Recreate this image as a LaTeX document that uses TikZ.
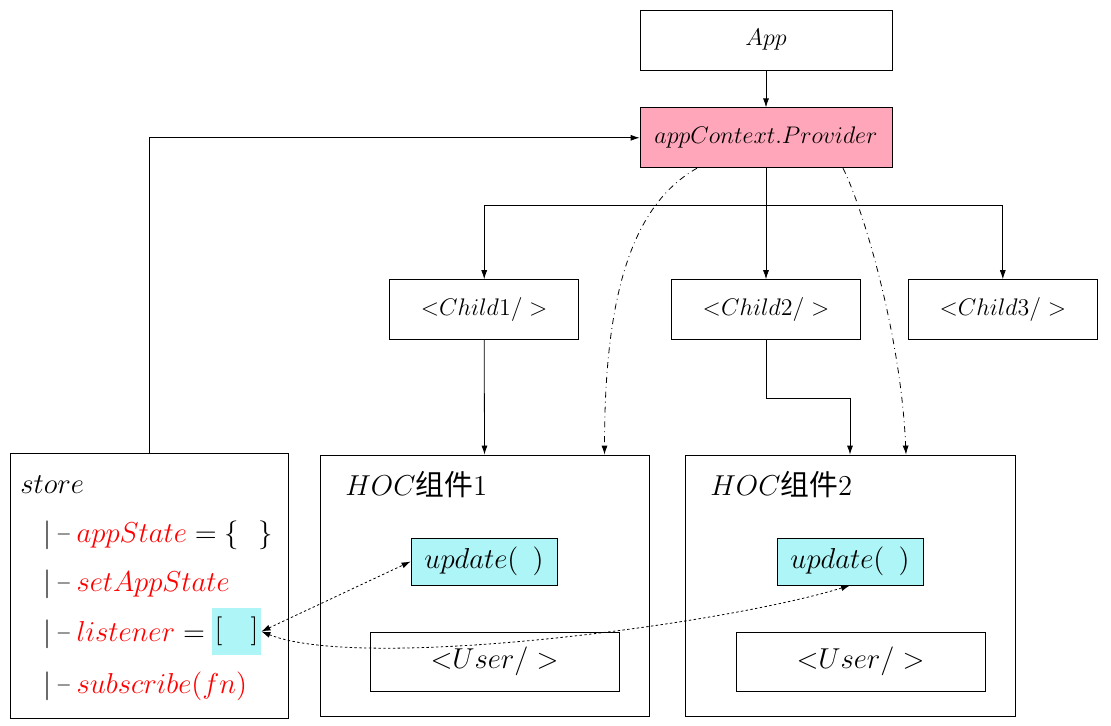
\documentclass[tikz,border=0pt]{standalone}
\usepackage{amsmath,amssymb}
\usepackage{xcolor}
\usepackage{fontspec}
\newfontfamily\cjk{Noto Sans CJK SC}
\usetikzlibrary{positioning,arrows.meta}
\definecolor{provpink}{RGB}{255,166,186}
\definecolor{fncyan}{RGB}{174,245,247}
\newcommand{\treedash}{$|$\,\raisebox{1.2pt}{\normalsize$-$}\,}

\begin{document}
\begin{tikzpicture}[>={Latex[length=4.5pt,width=3pt]}, x=0.5pt, y=-0.5pt, node distance=0.7cm]
\useasboundingbox (0,0) rectangle (1111,726);
% top row
\node[draw, minimum width=126pt, minimum height=30pt, font=\large]
  (app) at (766,40) {$App$};
\node[draw, fill=provpink, below=18.5pt of app, minimum width=126pt, minimum height=30pt, font=\large]
  (prov) {$appContext.Provider$};
\node[draw, below=55.5pt of prov, minimum width=94.5pt, minimum height=30pt, font=\large]
  (childb) {$\mathord{<}Child2/>$};
\node[draw, left=46pt of childb, minimum width=94.5pt, minimum height=30pt, font=\large]
  (childa) {$\mathord{<}Child1/>$};
\node[draw, right=23.5pt of childb, minimum width=94.5pt, minimum height=30pt, font=\large]
  (childc) {$\mathord{<}Child3/>$};
% bottom row
\node[draw, minimum width=139pt, minimum height=132.5pt] (store) at (149,585.5) {};
\node[draw, minimum width=164.5pt, minimum height=130.5pt] (hoca) at (484.5,585.5) {};
\node[draw, minimum width=165pt, minimum height=130.5pt] (hocb) at (850,585.5) {};
\node[anchor=west, inner sep=0pt, font=\Large] (hocalbl) at (345,485) {$HOC${\cjk 组件}$1$};
\node[anchor=west, inner sep=0pt, font=\Large] (hocblbl) at (710,485) {$HOC${\cjk 组件}$2$};
\node[draw, fill=fncyan, minimum width=73pt, minimum height=23.5pt, font=\Large]
  (upda) at (484,561.5) {$update(\,\ )$};
\node[draw, fill=fncyan, minimum width=73pt, minimum height=23.5pt, font=\Large]
  (updb) at (850,561.5) {$update(\,\ )$};
\node[draw, minimum width=124.5pt, minimum height=29.5pt, font=\Large]
  (usera) at (494.5,661.5) {$\mathord{<}User/>$};
\node[draw, minimum width=124.5pt, minimum height=29.5pt, font=\Large]
  (userb) at (860.5,661.5) {$\mathord{<}User/>$};
% store content
\node[anchor=west, inner sep=0pt, font=\Large] (stname) at (20,485) {$store$};
\node[anchor=west, inner sep=0pt, font=\Large] (ststate) at (43,535)
  {\treedash$\textcolor{red}{appState}=\{\ \ \}$};
\node[anchor=west, inner sep=0pt, font=\Large] (stset) at (43,584)
  {\treedash$\textcolor{red}{setAppState}$};
\node[anchor=west, inner sep=0pt, font=\Large] (stlist) at (43,634)
  {\treedash$\textcolor{red}{listener}=$};
\node[fill=fncyan, minimum width=24.5pt, minimum height=23.5pt, inner sep=0pt, font=\Large]
  (lstbox) at (236.5,631.5) {$[\ \ \ ]$};
\node[anchor=west, inner sep=0pt, font=\Large] (stsub) at (43,686)
  {\treedash$\textcolor{red}{subscribe(fn)}$};
% connectors
\draw[->] (app) -- (prov);
\draw[->] (prov.south) -- ++(0,37) -| (childa.north);
\draw[->] (prov.south) -- ++(0,37) -| (childc.north);
\draw[->] (prov.south) -- (childb.north);
\draw[->] (childa.south) -- (hoca.north);
\draw[->] (childb.south) -- ++(0,58) -| (hocb.north);
\draw[->] (store.north) |- (prov.west);
\draw[->, dash dot] ([xshift=-34.5pt]prov.south) .. controls +(-67,38) and +(0,-155) .. ([xshift=60pt]hoca.north);
\draw[->, dash dot] ([xshift=38.5pt]prov.south) .. controls +(20,40) and +(-5,-120) .. ([xshift=28pt]hocb.north);
\draw[<->, dash pattern=on 1.2pt off 1.2pt] (lstbox.east) -- (upda.west);
\draw[<->, dash pattern=on 1.2pt off 1.2pt] (lstbox.east) .. controls +(100,40) and +(-130,40) .. (updb.south);
\end{tikzpicture}
\end{document}
